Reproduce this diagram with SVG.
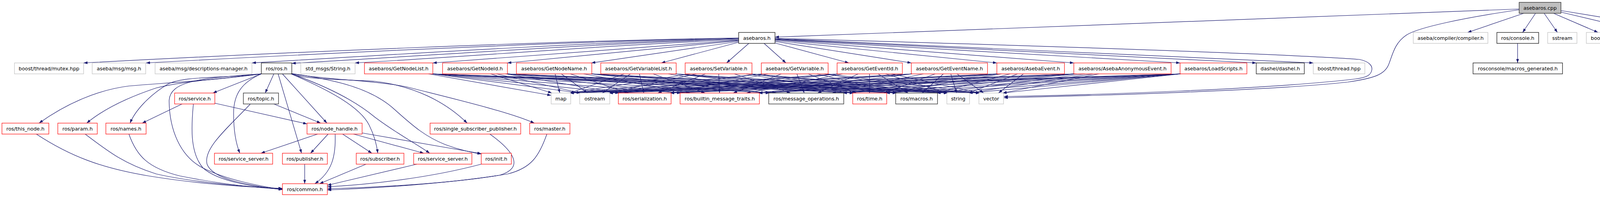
<svg xmlns="http://www.w3.org/2000/svg" width="4464" height="504" viewBox="0 0 4464 504">
<style>
rect{fill:#fff;stroke-width:1.2}
.r rect{stroke:#ff0000}
.g rect{stroke:#bfbfbf}
.k rect{stroke:#000}
.d rect{stroke:#404040;stroke-width:1.5}
.f rect{fill:#bfbfbf;stroke:#404040;stroke-width:1.5}
text{font-family:"DejaVu Sans","Liberation Sans",sans-serif;font-size:12.8px;text-anchor:middle;fill:#000}
#edges path{fill:none;stroke:#191970;stroke-width:1.2;marker-end:url(#ah)}
</style>
<defs>
<marker id="ah" viewBox="0 0 10 7" refX="10" refY="3.5" markerWidth="10" markerHeight="7" markerUnits="userSpaceOnUse" orient="auto"><path d="M0,0L10,3.5L0,7z" fill="#191970"/></marker>
</defs>
<rect x="0" y="0" width="4464" height="504" style="fill:#fff;stroke:none"/>
<g id="edges">
<path d="M3889,23L1984,95"/>
<path d="M3889,25C3750,45 3630,70 3600,90C3570,110 3565,140 3555,165C3545,190 3520,200 3450,210C3250,232 2800,245 2570,250"/>
<path d="M3901,34L3757,83"/>
<path d="M3931,34L3898,83"/>
<path d="M3953,34L3987,83"/>
<path d="M3977,34L4091,83"/>
<path d="M3996,31L4219,84"/>
<path d="M3996,27L4357,86"/>
<path d="M3885,111L3885,161"/>
<path d="M1891,97C1400,105 700,135 214,161"/>
<path d="M1891,98C1450,106 800,138 374,161"/>
<path d="M1891,99C1500,108 1000,140 645,161"/>
<path d="M1891,100C1550,110 1100,142 747,162"/>
<path d="M1891,102C1600,112 1200,145 909,161"/>
<path d="M1891,103L1108,161"/>
<path d="M1891,104L1299,161"/>
<path d="M1891,106L1514,161"/>
<path d="M1891,108L1693,161"/>
<path d="M1917,111L1860,161"/>
<path d="M1956,111L2012,161"/>
<path d="M1984,110L2173,161"/>
<path d="M1984,106L2333,161"/>
<path d="M1984,104L2552,161"/>
<path d="M1984,102L2749,161"/>
<path d="M1984,101L3021,161"/>
<path d="M1984,100L3216,161"/>
<path d="M1984,99L3362,161"/>
<path d="M1984,98C2600,115 3300,138 3480,152C3508,158 3513,170 3512,178C3510,192 3500,198 3470,202C3250,228 2800,243 2570,247"/>
<path d="M668,189C560,205 420,212 330,220C250,230 170,265 100,315"/>
<path d="M668,189C560,203 470,207 400,225C340,245 270,275 222,315"/>
<path d="M668,190C560,200 470,195 430,215C380,245 345,285 333,315"/>
<path d="M669,189L545,238"/>
<path d="M701,189L679,238"/>
<path d="M668,189C520,200 432,205 433,260C434,330 460,400 520,430C580,460 660,475 723,485"/>
<path d="M669,189C620,210 598,240 598,290C598,340 605,370 614,392"/>
<path d="M712,189L772,392"/>
<path d="M723,189L837,315"/>
<path d="M745,189C830,225 920,270 945,320C960,350 965,375 967,392"/>
<path d="M746,189C820,215 900,250 960,300C1020,345 1070,370 1100,392"/>
<path d="M746,188C860,205 950,225 1010,280C1060,325 1090,350 1140,370C1180,385 1210,390 1232,394"/>
<path d="M746,188C770,203 880,203 960,208C1060,220 1140,260 1196,315"/>
<path d="M746,189C850,205 960,206 1040,222C1150,250 1300,285 1368,315"/>
<path d="M466,266L364,315"/>
<path d="M550,264L786,317"/>
<path d="M495,266C490,320 485,390 520,430C560,465 650,478 723,485"/>
<path d="M701,266L821,315"/>
<path d="M641,266C580,330 520,380 530,420C545,460 640,475 723,485"/>
<path d="M93,343C180,400 260,430 380,450C500,470 620,478 723,482"/>
<path d="M218,343C280,390 320,420 400,445C500,468 640,478 723,483"/>
<path d="M330,343C350,400 380,430 460,450C560,470 650,480 723,484"/>
<path d="M813,343L668,392"/>
<path d="M840,343L795,392"/>
<path d="M858,343C860,400 850,440 806,470"/>
<path d="M877,343L952,392"/>
<path d="M905,343L1085,392"/>
<path d="M926,340L1232,393"/>
<path d="M780,420L780,470"/>
<path d="M937,420L818,470"/>
<path d="M1067,420L838,474"/>
<path d="M1232,420C1100,455 950,472 838,478"/>
<path d="M1254,343C1320,390 1340,430 1280,448C1150,470 950,480 838,483"/>
<path d="M1400,343C1380,400 1360,430 1300,445C1150,470 950,482 838,486"/>
<path d="M1097,189L1411,244"/>
<path d="M1107,189L1486,238"/>
<path d="M1107,189L1585,238"/>
<path d="M1107,189L1743,238"/>
<path d="M1107,189L1970,238"/>
<path d="M1107,189L2185,238"/>
<path d="M1107,189L2295,238"/>
<path d="M1107,189L2426,238"/>
<path d="M1107,189L2508,238"/>
<path d="M1256,189L1413,238"/>
<path d="M1271,189L1486,238"/>
<path d="M1294,189L1585,238"/>
<path d="M1297,189L1743,238"/>
<path d="M1297,189L1970,238"/>
<path d="M1297,189L2185,238"/>
<path d="M1297,189L2295,238"/>
<path d="M1297,189L2426,238"/>
<path d="M1297,189L2508,238"/>
<path d="M1421,189L1433,238"/>
<path d="M1437,189L1504,238"/>
<path d="M1460,189L1609,238"/>
<path d="M1494,189L1766,238"/>
<path d="M1513,189L1970,238"/>
<path d="M1513,189L2185,238"/>
<path d="M1513,189L2295,238"/>
<path d="M1513,189L2426,238"/>
<path d="M1513,189L2508,238"/>
<path d="M1598,189L1459,238"/>
<path d="M1614,189L1542,238"/>
<path d="M1637,189L1648,238"/>
<path d="M1672,189L1805,238"/>
<path d="M1711,189L1987,238"/>
<path d="M1728,189L2185,238"/>
<path d="M1728,189L2295,238"/>
<path d="M1728,189L2426,238"/>
<path d="M1728,189L2508,238"/>
<path d="M1767,189L1459,238"/>
<path d="M1783,189L1559,238"/>
<path d="M1806,189L1684,238"/>
<path d="M1840,189L1842,238"/>
<path d="M1880,189L2024,238"/>
<path d="M1910,189L2185,238"/>
<path d="M1923,189L2295,238"/>
<path d="M1923,189L2426,238"/>
<path d="M1923,189L2508,238"/>
<path d="M1951,189L1459,238"/>
<path d="M1951,189L1559,238"/>
<path d="M1966,189L1716,238"/>
<path d="M2000,189L1877,238"/>
<path d="M2040,189L2059,238"/>
<path d="M2069,189L2192,238"/>
<path d="M2091,189L2295,238"/>
<path d="M2110,189L2426,238"/>
<path d="M2118,189L2508,238"/>
<path d="M2145,189L1459,238"/>
<path d="M2145,189L1559,238"/>
<path d="M2145,189L1716,238"/>
<path d="M2157,189L1911,238"/>
<path d="M2197,189L2093,238"/>
<path d="M2226,189L2226,238"/>
<path d="M2248,189L2325,238"/>
<path d="M2267,189L2426,238"/>
<path d="M2282,189L2508,238"/>
<path d="M2335,189L1459,238"/>
<path d="M2335,189L1559,238"/>
<path d="M2335,189L1716,238"/>
<path d="M2335,189L1942,238"/>
<path d="M2364,189L2130,238"/>
<path d="M2394,189L2263,238"/>
<path d="M2415,189L2361,238"/>
<path d="M2434,189L2449,238"/>
<path d="M2450,189L2518,238"/>
<path d="M2554,189L1459,238"/>
<path d="M2554,189L1559,238"/>
<path d="M2554,189L1716,238"/>
<path d="M2554,189L1942,238"/>
<path d="M2554,189L2158,238"/>
<path d="M2564,189L2268,238"/>
<path d="M2586,189L2398,238"/>
<path d="M2605,189L2480,238"/>
<path d="M2620,189L2556,238"/>
<path d="M2751,189L1459,238"/>
<path d="M2751,189L1559,238"/>
<path d="M2751,189L1716,238"/>
<path d="M2751,189L1942,238"/>
<path d="M2751,189L2158,238"/>
<path d="M2757,189L2268,238"/>
<path d="M2778,189L2398,238"/>
<path d="M2798,189L2480,238"/>
<path d="M2813,189L2567,238"/>
<path d="M3023,189L1459,238"/>
<path d="M3023,189L1559,238"/>
<path d="M3023,189L1716,238"/>
<path d="M3023,189L1942,238"/>
<path d="M3023,189L2158,238"/>
<path d="M3023,189L2268,238"/>
<path d="M3023,189L2398,238"/>
<path d="M3023,189L2480,238"/>
<path d="M3023,189L2567,238"/>
</g>
<g id="n_asebaros_cpp" class="f"><rect x="3889" y="6" width="107" height="28"/><text x="3942.5" y="24.5">asebaros.cpp</text></g>
<g id="n_asebaros_h" class="k"><rect x="1891" y="83" width="93" height="28"/><text x="1937.5" y="101.5">asebaros.h</text></g>
<g id="n_compiler" class="g"><rect x="3618" y="83" width="191" height="28"/><text x="3713.5" y="101.5">aseba/compiler/compiler.h</text></g>
<g id="n_console" class="k"><rect x="3832" y="83" width="107" height="28"/><text x="3885.5" y="101.5">ros/console.h</text></g>
<g id="n_sstream" class="g"><rect x="3962" y="83" width="75" height="28"/><text x="3999.5" y="101.5">sstream</text></g>
<g id="n_format" class="g"><rect x="4061" y="83" width="134" height="28"/><text x="4128" y="101.5">boost/format.hpp</text></g>
<g id="n_parser" class="g"><rect x="4219" y="83" width="114" height="28"/><text x="4276" y="101.5">libxml/parser.h</text></g>
<g id="n_tree" class="g"><rect x="4357" y="83" width="101" height="28"/><text x="4407.5" y="101.5">libxml/tree.h</text></g>
<g id="n_mutex" class="g"><rect x="37" y="161" width="177" height="28"/><text x="125.5" y="179.5">boost/thread/mutex.hpp</text></g>
<g id="n_msg" class="g"><rect x="236" y="161" width="137" height="28"/><text x="304.5" y="179.5">aseba/msg/msg.h</text></g>
<g id="n_desc" class="g"><rect x="397" y="161" width="248" height="28"/><text x="521" y="179.5">aseba/msg/descriptions-manager.h</text></g>
<g id="n_ros" class="k"><rect x="669" y="161" width="78" height="28"/><text x="708" y="179.5">ros/ros.h</text></g>
<g id="n_string_msg" class="g"><rect x="770" y="161" width="139" height="28"/><text x="839.5" y="179.5">std_msgs/String.h</text></g>
<g id="n_GetNodeList" class="r"><rect x="933" y="161" width="175" height="28"/><text x="1020.5" y="179.5">asebaros/GetNodeList.h</text></g>
<g id="n_GetNodeId" class="r"><rect x="1133" y="161" width="166" height="28"/><text x="1216" y="179.5">asebaros/GetNodeId.h</text></g>
<g id="n_GetNodeName" class="r"><rect x="1322" y="161" width="193" height="28"/><text x="1418.5" y="179.5">asebaros/GetNodeName.h</text></g>
<g id="n_GetVariableList" class="r"><rect x="1538" y="161" width="193" height="28"/><text x="1634.5" y="179.5">asebaros/GetVariableList.h</text></g>
<g id="n_SetVariable" class="r"><rect x="1754" y="161" width="171" height="28"/><text x="1839.5" y="179.5">asebaros/SetVariable.h</text></g>
<g id="n_GetVariable" class="r"><rect x="1949" y="161" width="171" height="28"/><text x="2034.5" y="179.5">asebaros/GetVariable.h</text></g>
<g id="n_GetEventId" class="r"><rect x="2143" y="161" width="167" height="28"/><text x="2226.5" y="179.5">asebaros/GetEventId.h</text></g>
<g id="n_GetEventName" class="r"><rect x="2333" y="161" width="195" height="28"/><text x="2430.5" y="179.5">asebaros/GetEventName.h</text></g>
<g id="n_AsebaEvent" class="r"><rect x="2552" y="161" width="173" height="28"/><text x="2638.5" y="179.5">asebaros/AsebaEvent.h</text></g>
<g id="n_AsebaAnonymousEvent" class="r"><rect x="2749" y="161" width="249" height="28"/><text x="2873.5" y="179.5">asebaros/AsebaAnonymousEvent.h</text></g>
<g id="n_LoadScripts" class="r"><rect x="3021" y="161" width="171" height="28"/><text x="3106.5" y="179.5">asebaros/LoadScripts.h</text></g>
<g id="n_dashel" class="k"><rect x="3216" y="161" width="123" height="28"/><text x="3277.5" y="179.5">dashel/dashel.h</text></g>
<g id="n_thread" class="g"><rect x="3362" y="161" width="132" height="28"/><text x="3428" y="179.5">boost/thread.hpp</text></g>
<g id="n_macros_generated" class="k"><rect x="3771" y="161" width="229" height="28"/><text x="3885.5" y="179.5">rosconsole/macros_generated.h</text></g>
<g id="n_service" class="r"><rect x="447" y="238" width="103" height="28"/><text x="498.5" y="256.5">ros/service.h</text></g>
<g id="n_topic" class="d"><rect x="623" y="238" width="90" height="28"/><text x="668" y="256.5">ros/topic.h</text></g>
<g id="n_map" class="g"><rect x="1411" y="238" width="50" height="28"/><text x="1436" y="256.5">map</text></g>
<g id="n_ostream" class="g"><rect x="1484" y="238" width="77" height="28"/><text x="1522.5" y="256.5">ostream</text></g>
<g id="n_serialization" class="r"><rect x="1583" y="238" width="135" height="28"/><text x="1650.5" y="256.5">ros/serialization.h</text></g>
<g id="n_builtin" class="r"><rect x="1741" y="238" width="203" height="28"/><text x="1842.5" y="256.5">ros/builtin_message_traits.h</text></g>
<g id="n_msgops" class="d"><rect x="1968" y="238" width="192" height="28"/><text x="2064" y="256.5">ros/message_operations.h</text></g>
<g id="n_time" class="r"><rect x="2183" y="238" width="87" height="28"/><text x="2226.5" y="256.5">ros/time.h</text></g>
<g id="n_macros" class="d"><rect x="2293" y="238" width="107" height="28"/><text x="2346.5" y="256.5">ros/macros.h</text></g>
<g id="n_string" class="g"><rect x="2424" y="238" width="58" height="28"/><text x="2453" y="256.5">string</text></g>
<g id="n_vector" class="g"><rect x="2506" y="238" width="63" height="28"/><text x="2537.5" y="256.5">vector</text></g>
<g id="n_this_node" class="r"><rect x="5" y="315" width="120" height="28"/><text x="65" y="333.5">ros/this_node.h</text></g>
<g id="n_param" class="r"><rect x="148" y="315" width="101" height="28"/><text x="198.5" y="333.5">ros/param.h</text></g>
<g id="n_names" class="r"><rect x="271" y="315" width="103" height="28"/><text x="322.5" y="333.5">ros/names.h</text></g>
<g id="n_node_handle" class="r"><rect x="786" y="315" width="141" height="28"/><text x="856.5" y="333.5">ros/node_handle.h</text></g>
<g id="n_single" class="r"><rect x="1101" y="315" width="232" height="28"/><text x="1217" y="333.5">ros/single_subscriber_publisher.h</text></g>
<g id="n_master" class="r"><rect x="1356" y="315" width="103" height="28"/><text x="1407.5" y="333.5">ros/master.h</text></g>
<g id="n_service_server1" class="r"><rect x="549" y="392" width="149" height="28"/><text x="623.5" y="410.5">ros/service_server.h</text></g>
<g id="n_publisher" class="r"><rect x="723" y="392" width="115" height="28"/><text x="780.5" y="410.5">ros/publisher.h</text></g>
<g id="n_subscriber" class="r"><rect x="912" y="392" width="122" height="28"/><text x="973" y="410.5">ros/subscriber.h</text></g>
<g id="n_service_server2" class="r"><rect x="1059" y="392" width="149" height="28"/><text x="1133.5" y="410.5">ros/service_server.h</text></g>
<g id="n_init" class="r"><rect x="1232" y="392" width="77" height="28"/><text x="1270.5" y="410.5">ros/init.h</text></g>
<g id="n_common" class="r"><rect x="723" y="470" width="115" height="28"/><text x="780.5" y="488.5">ros/common.h</text></g>
</svg>
